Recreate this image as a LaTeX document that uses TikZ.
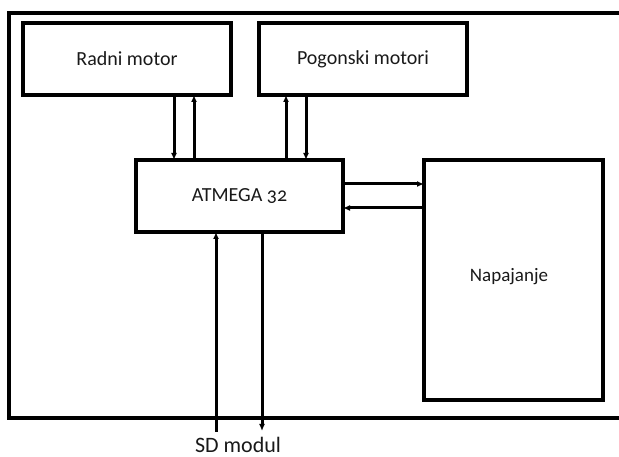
\documentclass[tikz,border=0pt]{standalone}
\usepackage{fontspec}
\setmainfont{Carlito}[Numbers=OldStyle]
\usepackage{tikz}
\usetikzlibrary{arrows.meta,positioning}

\begin{document}
\begin{tikzpicture}[x=1pt,y=1pt,
  blok/.style={draw,line width=3.5pt,inner sep=0pt,outer sep=0pt,text=black!90,font=\fontsize{20}{24}\selectfont},
  sig/.style={line width=3pt,-{Latex[length=7pt,width=6pt]}}]
\useasboundingbox (0,0) rectangle (619,457);
% okvir
\draw[line width=4pt] (625,444) -- (9,444) -- (9,39) -- (625,39);
% blokovi
\node[blok,minimum width=208pt,minimum height=72pt] (radni) at (127,398) {Radni motor};
\node[blok,minimum width=208pt,minimum height=72pt] (pogon) at (363,398) {Pogonski motori};
\node[blok,minimum width=207pt,minimum height=72pt] (atmega) at (239.5,261) {ATMEGA 32};
\node[blok,minimum width=179pt,minimum height=240pt] (napaj) at (513.5,177) {};
\node[text=black!90,font=\fontsize{19}{23}\selectfont] (napajtxt) at (509,180) {Napajanje};
\node[text=black!90,font=\fontsize{22}{26}\selectfont,inner sep=0pt] (sd) at (238,12.5) {SD modul};
\coordinate (sdin) at (216,25);
\coordinate (sdout) at (262,26);
% veze
\draw[sig] ([xshift=47pt]radni.south) -- ([xshift=47pt]radni.south |- atmega.north);
\draw[sig] ([xshift=67pt]radni.south |- atmega.north) -- ([xshift=67pt]radni.south);
\draw[sig] ([xshift=-77pt]pogon.south |- atmega.north) -- ([xshift=-77pt]pogon.south);
\draw[sig] ([xshift=-57pt]pogon.south) -- ([xshift=-57pt]pogon.south |- atmega.north);
\draw[sig] ([yshift=12pt]atmega.east) -- ([yshift=12pt]atmega.east -| napaj.west);
\draw[sig] ([yshift=-12pt]atmega.east -| napaj.west) -- ([yshift=-12pt]atmega.east);
\draw[sig] (sdin) -- (sdin |- atmega.south);
\draw[sig] (sdout |- atmega.south) -- (sdout);
\end{tikzpicture}
\end{document}
